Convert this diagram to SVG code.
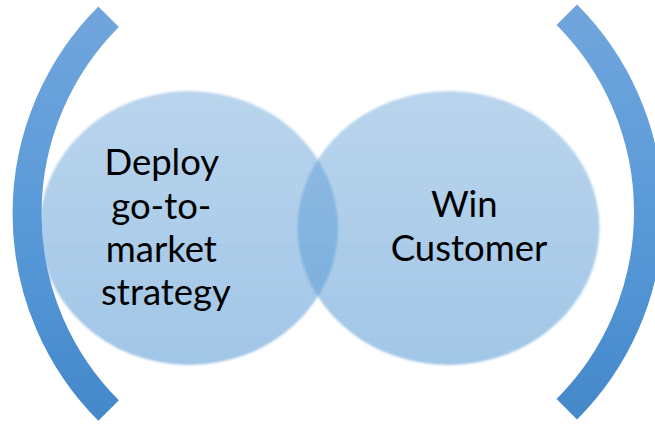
<svg xmlns="http://www.w3.org/2000/svg" width="655" height="425" viewBox="0 0 655 425">
  <defs>
    <linearGradient id="circleFill" x1="0" y1="0" x2="0" y2="1">
      <stop offset="0" stop-color="#5B9BD5" stop-opacity="0.42"/>
      <stop offset="1" stop-color="#5B9BD5" stop-opacity="0.57"/>
    </linearGradient>
    <linearGradient id="bracketFill" gradientUnits="userSpaceOnUse" x1="0" y1="0" x2="0" y2="425">
      <stop offset="0" stop-color="#72a6dc"/>
      <stop offset="0.5" stop-color="#5a9ad9"/>
      <stop offset="1" stop-color="#4388ca"/>
    </linearGradient>
    <filter id="soft" x="-5%" y="-5%" width="110%" height="110%">
      <feGaussianBlur stdDeviation="0.8"/>
    </filter>
  </defs>
  <style>
    .bracket { fill: none; stroke: url(#bracketFill); stroke-width: 29; stroke-linecap: butt; }
    .circle { fill: url(#circleFill); filter: url(#soft); }
    .label { font-family: Lato, "Open Sans", "Liberation Sans", sans-serif; font-size: 36.5px; fill: #000; text-anchor: middle; }
  </style>
  <rect width="655" height="425" fill="#ffffff"/>
  <g id="connectors">
    <path id="bracket-left" class="bracket" d="M108.6,16.8 A278.5,278.5 0 0 0 108.6,410.6"/>
    <path id="bracket-right" class="bracket" d="M566.8,14.7 A279,279 0 0 1 566.8,409.3"/>
  </g>
  <g id="node-deploy">
    <ellipse class="circle" cx="189" cy="228" rx="149" ry="137"/>
    <text class="label" x="166">
      <tspan x="166" y="175">Deploy</tspan>
      <tspan x="166" y="218.5">go-to-</tspan>
      <tspan x="166" y="262">market</tspan>
      <tspan x="166" y="305">strategy</tspan>
    </text>
  </g>
  <g id="node-win">
    <ellipse class="circle" cx="448.5" cy="228" rx="151" ry="137"/>
    <text class="label" x="469">
      <tspan x="469" y="217">Win</tspan>
      <tspan x="469" y="260.5">Customer</tspan>
    </text>
  </g>
</svg>
